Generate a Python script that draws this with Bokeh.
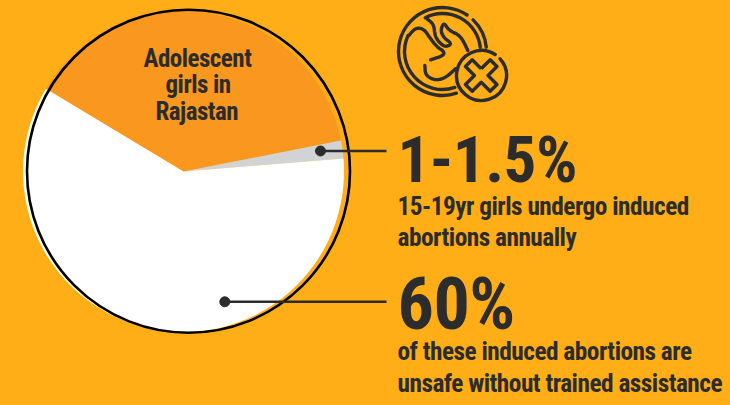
import numpy as np
from bokeh.embed import file_html
from bokeh.models import Range1d
from bokeh.plotting import figure
from bokeh.resources import INLINE
from bokeh.core.properties import value

BG = "#FFAE17"
INK = "#2C2C2C"

shares = [38.3, 1.8, 59.9]
slice_names = ["Adolescent girls in Rajastan", "undergo induced abortions", "other"]
slice_colors = ["#F9971E", "#D2D3D5", "#FFFFFF"]
start_angle_deg = 149.0

headline_a = "1-1.5%"
caption_a = ["15-19yr girls undergo induced", "abortions annually"]
headline_b = "60%"
caption_b = ["of these induced abortions are", "unsafe without trained assistance"]
pie_label = ["Adolescent", "girls in", "Rajastan"]

H = 405
FONT = value("Roboto")


def y(py):
    return H - py


def smooth(points, rounds=3):
    """Corner-cutting so the icon strokes read as curves."""
    pts = np.asarray(points, dtype=float)
    for _ in range(rounds):
        q = 0.75 * pts[:-1] + 0.25 * pts[1:]
        r = 0.25 * pts[:-1] + 0.75 * pts[1:]
        mid = np.empty((len(q) * 2, 2))
        mid[0::2], mid[1::2] = q, r
        pts = np.vstack([pts[:1], mid, pts[-1:]])
    return pts


p = figure(width=730, height=405, output_backend="svg", toolbar_location=None,
           x_range=Range1d(0, 730), y_range=Range1d(0, 405), min_border=0,
           background_fill_color=BG, border_fill_color=BG)
p.axis.visible = False
p.grid.visible = False
p.outline_line_color = None
# condensed, tightly set lettering inherited by every text in the plot
p.styles = {"font-stretch": "62.5%", "letter-spacing": "-0.5px", "background-color": BG}

# pie slices run clockwise from the upper-left edge of the orange one
ends = np.radians(start_angle_deg - np.cumsum(shares) * 3.6)
starts = np.concatenate([[np.radians(start_angle_deg)], ends[:-1]])
p.wedge(x=[183] * 3, y=[y(171)] * 3, radius=160.5, start_angle=list(ends), end_angle=list(starts),
        fill_color=slice_colors, line_color=None)

# loose outline circle sitting slightly off the pie
p.ellipse(x=188, y=y(170.7), width=323, height=323, fill_color=None, line_color="#000000", line_width=2.6)

# leader lines with their dots
p.line([320, 386], [y(150.5), y(150.5)], line_color=INK, line_width=2.4)
p.line([224.3, 386], [y(301.3), y(301.3)], line_color=INK, line_width=2.4)
p.scatter([320, 224.3], [y(150.5), y(301.3)], size=10, color=INK)


def put(x, py, text, size):
    p.text([x], [y(py - 0.335 * size)], text=[text], text_font=FONT, text_font_style="bold",
           text_font_size=f"{size}px", text_color=INK, text_align="left",
           text_baseline="alphabetic")


for t, x, py in zip(pie_label, [143, 165, 155], [66.7, 92.8, 119.3]):
    put(x, py, t, 25)

put(397, 181.5, headline_a, 65)
put(397, 328, headline_b, 72)
for t, py in zip(caption_a, [214, 245]):
    put(397, py, t, 25.3)
for t, py in zip(caption_b, [359, 391]):
    put(397, py, t, 25.3)

# fetus icon: rings
cx, cy = 442, 51
rings = [(cx, cy, 44, 56, 288.5), (cx, cy, 44, 5.7, 46), (cx, cy, 38, 6.5, 117), (cx, cy, 38, 155, 289),
         (481, 75, 25, 57, 402)]
for x0, y0, r, a0, a1 in rings:
    p.arc(x=[x0], y=[y(y0)], radius=r, start_angle=np.radians(a0), end_angle=np.radians(a1),
          line_color=INK, line_width=3.4, line_cap="round")

# fetus icon: body strokes, traced on a 3x grid from (380, 0)
strokes = [
    [(140, 55), (160, 72), (163, 105), (175, 125), (195, 140), (215, 130), (190, 112), (180, 90),
     (190, 65), (205, 90), (240, 105), (262, 150)],
    [(85, 105), (105, 82), (130, 85), (148, 112), (170, 140), (190, 152), (190, 165), (150, 178)],
    [(133, 195), (135, 225), (165, 240), (195, 232), (225, 205)],
]
for s in strokes:
    pts = smooth(s)
    p.line(380 + pts[:, 0] / 3, H - pts[:, 1] / 3, line_color=INK, line_width=3.4, line_cap="round",
           line_join="round")

# fetus icon: rounded cross
L, W = 17.5, 4.8
cross = np.array([(W, W), (L, W), (L, -W), (W, -W), (W, -L), (-W, -L), (-W, -W), (-L, -W),
                  (-L, W), (-W, W), (-W, L), (W, L)])
rot = np.array([[1, -1], [1, 1]]) / np.sqrt(2)
cross = cross @ rot.T
cross = np.vstack([cross, cross[:1]])
p.line(480.7 + cross[:, 0], y(75) + cross[:, 1], line_color=INK, line_width=3.4, line_join="round")

open("out.html", "w").write(file_html(p, INLINE))
